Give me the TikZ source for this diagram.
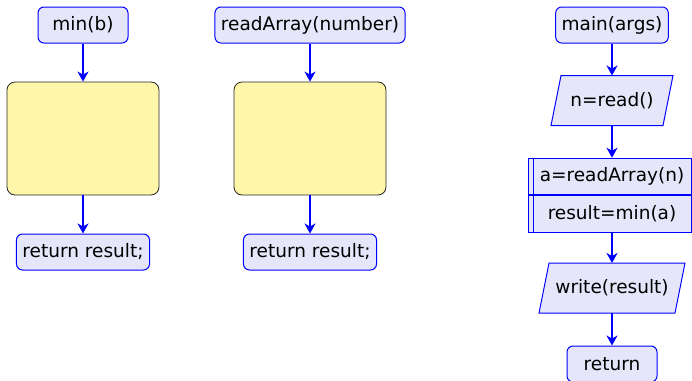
\documentclass[tikz,border=0pt]{standalone}
\usepackage{fontspec}
\setmainfont{DejaVu Sans}
\usepackage{tikz}
\usetikzlibrary{arrows.meta}

\definecolor{lavend}{RGB}{230,230,250}
\definecolor{padyellow}{RGB}{255,246,170}

\begin{document}
\begin{tikzpicture}[x=1pt, y=-1pt, line width=1pt,
    font=\fontsize{18.5}{22}\selectfont,
    term/.style={draw=blue, fill=lavend, rounded corners=6pt, minimum width=90pt,
      minimum height=36pt, inner xsep=6pt},
    io/.style={minimum height=49pt, inner sep=0pt},
    call/.style={draw=blue, fill=lavend, minimum width=167pt, minimum height=36.5pt,
      inner sep=0pt},
    body/.style={draw=black!85, fill=padyellow, rounded corners=8pt, minimum width=152pt,
      minimum height=113pt, line width=0.8pt},
    flow/.style={draw=blue, line width=2pt, -{Stealth[length=10pt, width=11pt, inset=3pt]}}]

    % fix the page size
    \useasboundingbox (0, 0) rectangle (692, 380);
    \clip (0, 0) rectangle (692, 380);

    % left column: min
    \node[term] (minb) at (83, 25) {min(b)};
    \node[body] (minbody) at (83, 138.5) {};
    \node[term] (minret) at (83, 252) {return result;};

    % middle column: readArray
    \node[term] (readarr) at (310, 25) {readArray(number)};
    \node[body] (readbody) at (310, 138.5) {};
    \node[term] (readret) at (310, 252) {return result;};

    % right column: main
    \node[term] (main) at (612, 25) {main(args)};
    \node[io, minimum width=111pt] (nread) at (612, 100.5) {};
    \node[call] (acall) at (612, 176.5) {a=readArray(n)};
    \node[call, anchor=north] (mincall) at (acall.south) {result=min(a)};
    \node[io, minimum width=135pt] (write) at (612, 288) {};
    \node[term] (mainret) at (612, 364) {return};

    % draw the slanted input/output boxes
    \foreach \shp/\txt in {nread/n=read(), write/write(result)}
      \filldraw[draw=blue, fill=lavend]
        ([xshift=-5pt]\shp.south west) -- ([xshift=5pt]\shp.north west)
        -- ([xshift=5pt]\shp.north east) -- ([xshift=-5pt]\shp.south east) -- cycle
        (\shp.center) node {\txt};

    % inner lines of the call box
    \draw[blue] ([xshift=5pt]acall.north west) -- ([xshift=5pt]mincall.south west);
    \draw[blue] ([xshift=-5pt]acall.north east) -- ([xshift=-5pt]mincall.south east);

    % draw arrows
    \draw[flow] (minb) -- (minbody);
    \draw[flow] (minbody) -- (minret);
    \draw[flow] (readarr) -- (readbody);
    \draw[flow] (readbody) -- (readret);
    \draw[flow] (main) -- (nread);
    \draw[flow] (nread) -- (acall);
    \draw[flow] (mincall) -- (write);
    \draw[flow] (write) -- (mainret);

\end{tikzpicture}
\end{document}
